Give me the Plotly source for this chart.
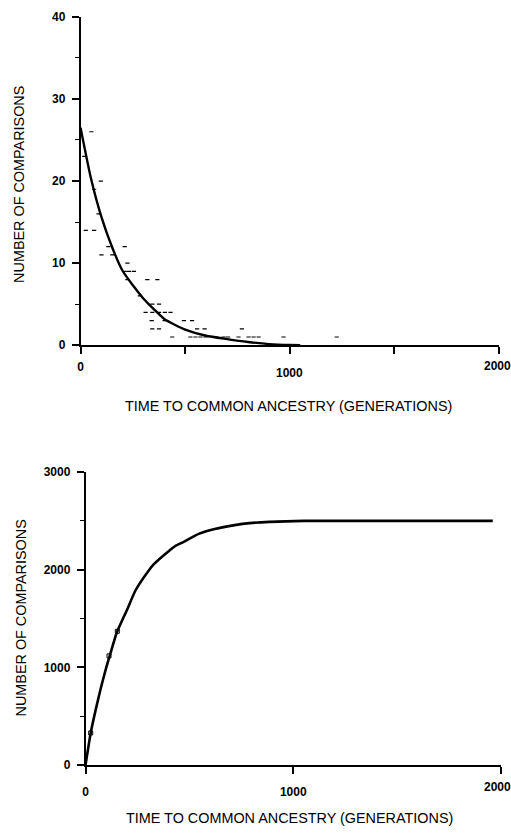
import plotly.graph_objects as go

W, H = 511, 835

# ---------------- Top panel data ----------------
# observed number of comparisons in each time bin (generations)
bin_time = [52, 18, 97, 65, 86,
            25, 65, 133, 211, 100, 152, 224,
            211, 232, 255, 224, 319, 367, 283,
            343, 375, 311, 343, 375, 403, 430,
            340, 402, 494, 533,
            343, 375, 557, 593, 771,
            438, 525, 549, 573, 597, 644, 684, 705, 755, 803, 827, 851, 970, 1224]
bin_count = [26, 23, 20, 19, 16,
             14, 14, 12, 12, 11, 11, 10,
             9, 9, 9, 8, 8, 8, 6,
             5, 5, 4, 4, 4, 4, 4,
             3, 3, 3, 3,
             2, 2, 2, 2, 2,
             1, 1, 1, 1, 1, 1, 1, 1, 1, 1, 1, 1, 1, 1]

# expected (fitted) distribution
fit_time = [0, 50, 100, 150, 200, 250, 300, 350, 400, 450, 500, 600, 700, 800, 900, 1000, 1050]
fit_count = [26.5, 20.3, 15.6, 12.0, 9.1, 7.3, 5.7, 4.4, 3.2, 2.5, 1.9, 1.15, 0.75, 0.4, 0.14, 0.02, 0.0]

# ---------------- Bottom panel data ----------------
cum_time = [0, 25, 50, 75, 100, 125, 150, 185, 200, 241, 300, 329, 400, 432, 473, 545,
            622, 718, 790, 885, 1053, 1960]
cum_count = [0, 329, 575, 800, 1000, 1180, 1355, 1521, 1590, 1790, 1980, 2057, 2190, 2243,
             2286, 2367, 2417, 2457, 2477, 2490, 2500, 2500]
obs_time = [25, 113, 153]
obs_count = [329, 1118, 1370]

top_xticks = [0, 500, 1000, 1500, 2000]
top_xlabels = ["0", "", "", "", ""]
top_yticks = [0, 10, 20, 30, 40]
bot_xticks = [0, 1000, 2000]
bot_xlabels = ["0", "1000", ""]
bot_yticks = [0, 1000, 2000, 3000]

XTITLE = "TIME TO COMMON ANCESTRY (GENERATIONS)"
YTITLE = "NUMBER OF COMPARISONS"

FONT = "Liberation Sans, Arial, sans-serif"


def px_x(p):
    return p / W


def px_y(p):
    return 1 - p / H


fig = go.Figure()

fig.add_trace(go.Scatter(
    x=bin_time, y=bin_count, mode="markers", xaxis="x", yaxis="y",
    marker=dict(symbol="line-ew", size=3, color="black",
                line=dict(width=1.2, color="black")),
    hoverinfo="x+y", showlegend=False))
fig.add_trace(go.Scatter(
    x=fit_time, y=fit_count, mode="lines", xaxis="x", yaxis="y",
    line=dict(color="black", width=2.4, shape="spline", smoothing=0.6),
    showlegend=False))

fig.add_trace(go.Scatter(
    x=cum_time, y=cum_count, mode="lines", xaxis="x2", yaxis="y2",
    line=dict(color="black", width=2.6, shape="spline", smoothing=0.5),
    showlegend=False))
fig.add_trace(go.Scatter(
    x=obs_time, y=obs_count, mode="markers", xaxis="x2", yaxis="y2",
    marker=dict(symbol="square-open", size=4, color="black",
                line=dict(width=1, color="black")),
    showlegend=False))

tickfont = dict(family=FONT, size=12, color="black", weight="bold")
titlefont = dict(family=FONT, size=14.4, color="black")

common_axis = dict(showgrid=False, zeroline=False, showline=True, linecolor="black",
                   linewidth=1.5, ticks="outside", ticklen=7, tickwidth=1.5,
                   tickcolor="black", tickfont=tickfont, fixedrange=True)

fig.update_layout(
    width=W, height=H,
    margin=dict(l=0, r=0, t=0, b=0),
    paper_bgcolor="white", plot_bgcolor="white",
    xaxis=dict(common_axis, domain=[px_x(78), px_x(499)], range=[0, 2000],
               anchor="y", tickvals=top_xticks, ticktext=top_xlabels,
               ticklabelstandoff=3),
    yaxis=dict(common_axis, domain=[px_y(344), px_y(10)], range=[0, 40],
               anchor="x", tickvals=top_yticks, ticklabelstandoff=4,
               minor=dict(dtick=5, tick0=0, ticks="outside", ticklen=4,
                          tickwidth=1.2, tickcolor="black")),
    xaxis2=dict(common_axis, domain=[px_x(83), px_x(501)], range=[0, 2000],
                anchor="y2", tickvals=bot_xticks, ticktext=bot_xlabels,
                ticklabelstandoff=8),
    yaxis2=dict(common_axis, domain=[px_y(771), px_y(473)], range=[0, 3000],
                anchor="x2", tickvals=bot_yticks, ticklabelstandoff=4,
                minor=dict(dtick=500, tick0=0, ticks="outside", ticklen=4,
                           tickwidth=1.2, tickcolor="black")),
    showlegend=False,
)

annots = [
    # staggered "1000" label on the top x axis
    dict(text="1000", x=1000, xref="x", y=px_y(372), yref="paper",
         showarrow=False, font=tickfont, xanchor="center", yanchor="middle"),
    # "2000" labels pushed against the right page edge
    dict(text="2000", x=1.0, xref="paper", y=px_y(365), yref="paper",
         showarrow=False, font=tickfont, xanchor="right", yanchor="middle",
         borderpad=0, xshift=1),
    dict(text="2000", x=1.0, xref="paper", y=px_y(793), yref="paper",
         showarrow=False, font=tickfont, xanchor="right", yanchor="middle",
         borderpad=0, xshift=1),
    dict(text=XTITLE, x=px_x(287), y=px_y(406), xref="paper", yref="paper",
         showarrow=False, font=titlefont, xanchor="center", yanchor="middle"),
    dict(text=YTITLE, x=px_x(16), y=px_y(180), xref="paper", yref="paper",
         showarrow=False, textangle=-90, font=titlefont,
         xanchor="center", yanchor="middle"),
    dict(text=XTITLE, x=px_x(288), y=px_y(825), xref="paper", yref="paper",
         showarrow=False, font=titlefont, xanchor="center", yanchor="middle"),
    dict(text=YTITLE, x=px_x(18), y=px_y(621), xref="paper", yref="paper",
         showarrow=False, textangle=-90, font=titlefont,
         xanchor="center", yanchor="middle"),
]
fig.update_layout(annotations=annots)

fig.write_html("out.html", config={"displayModeBar": False})
